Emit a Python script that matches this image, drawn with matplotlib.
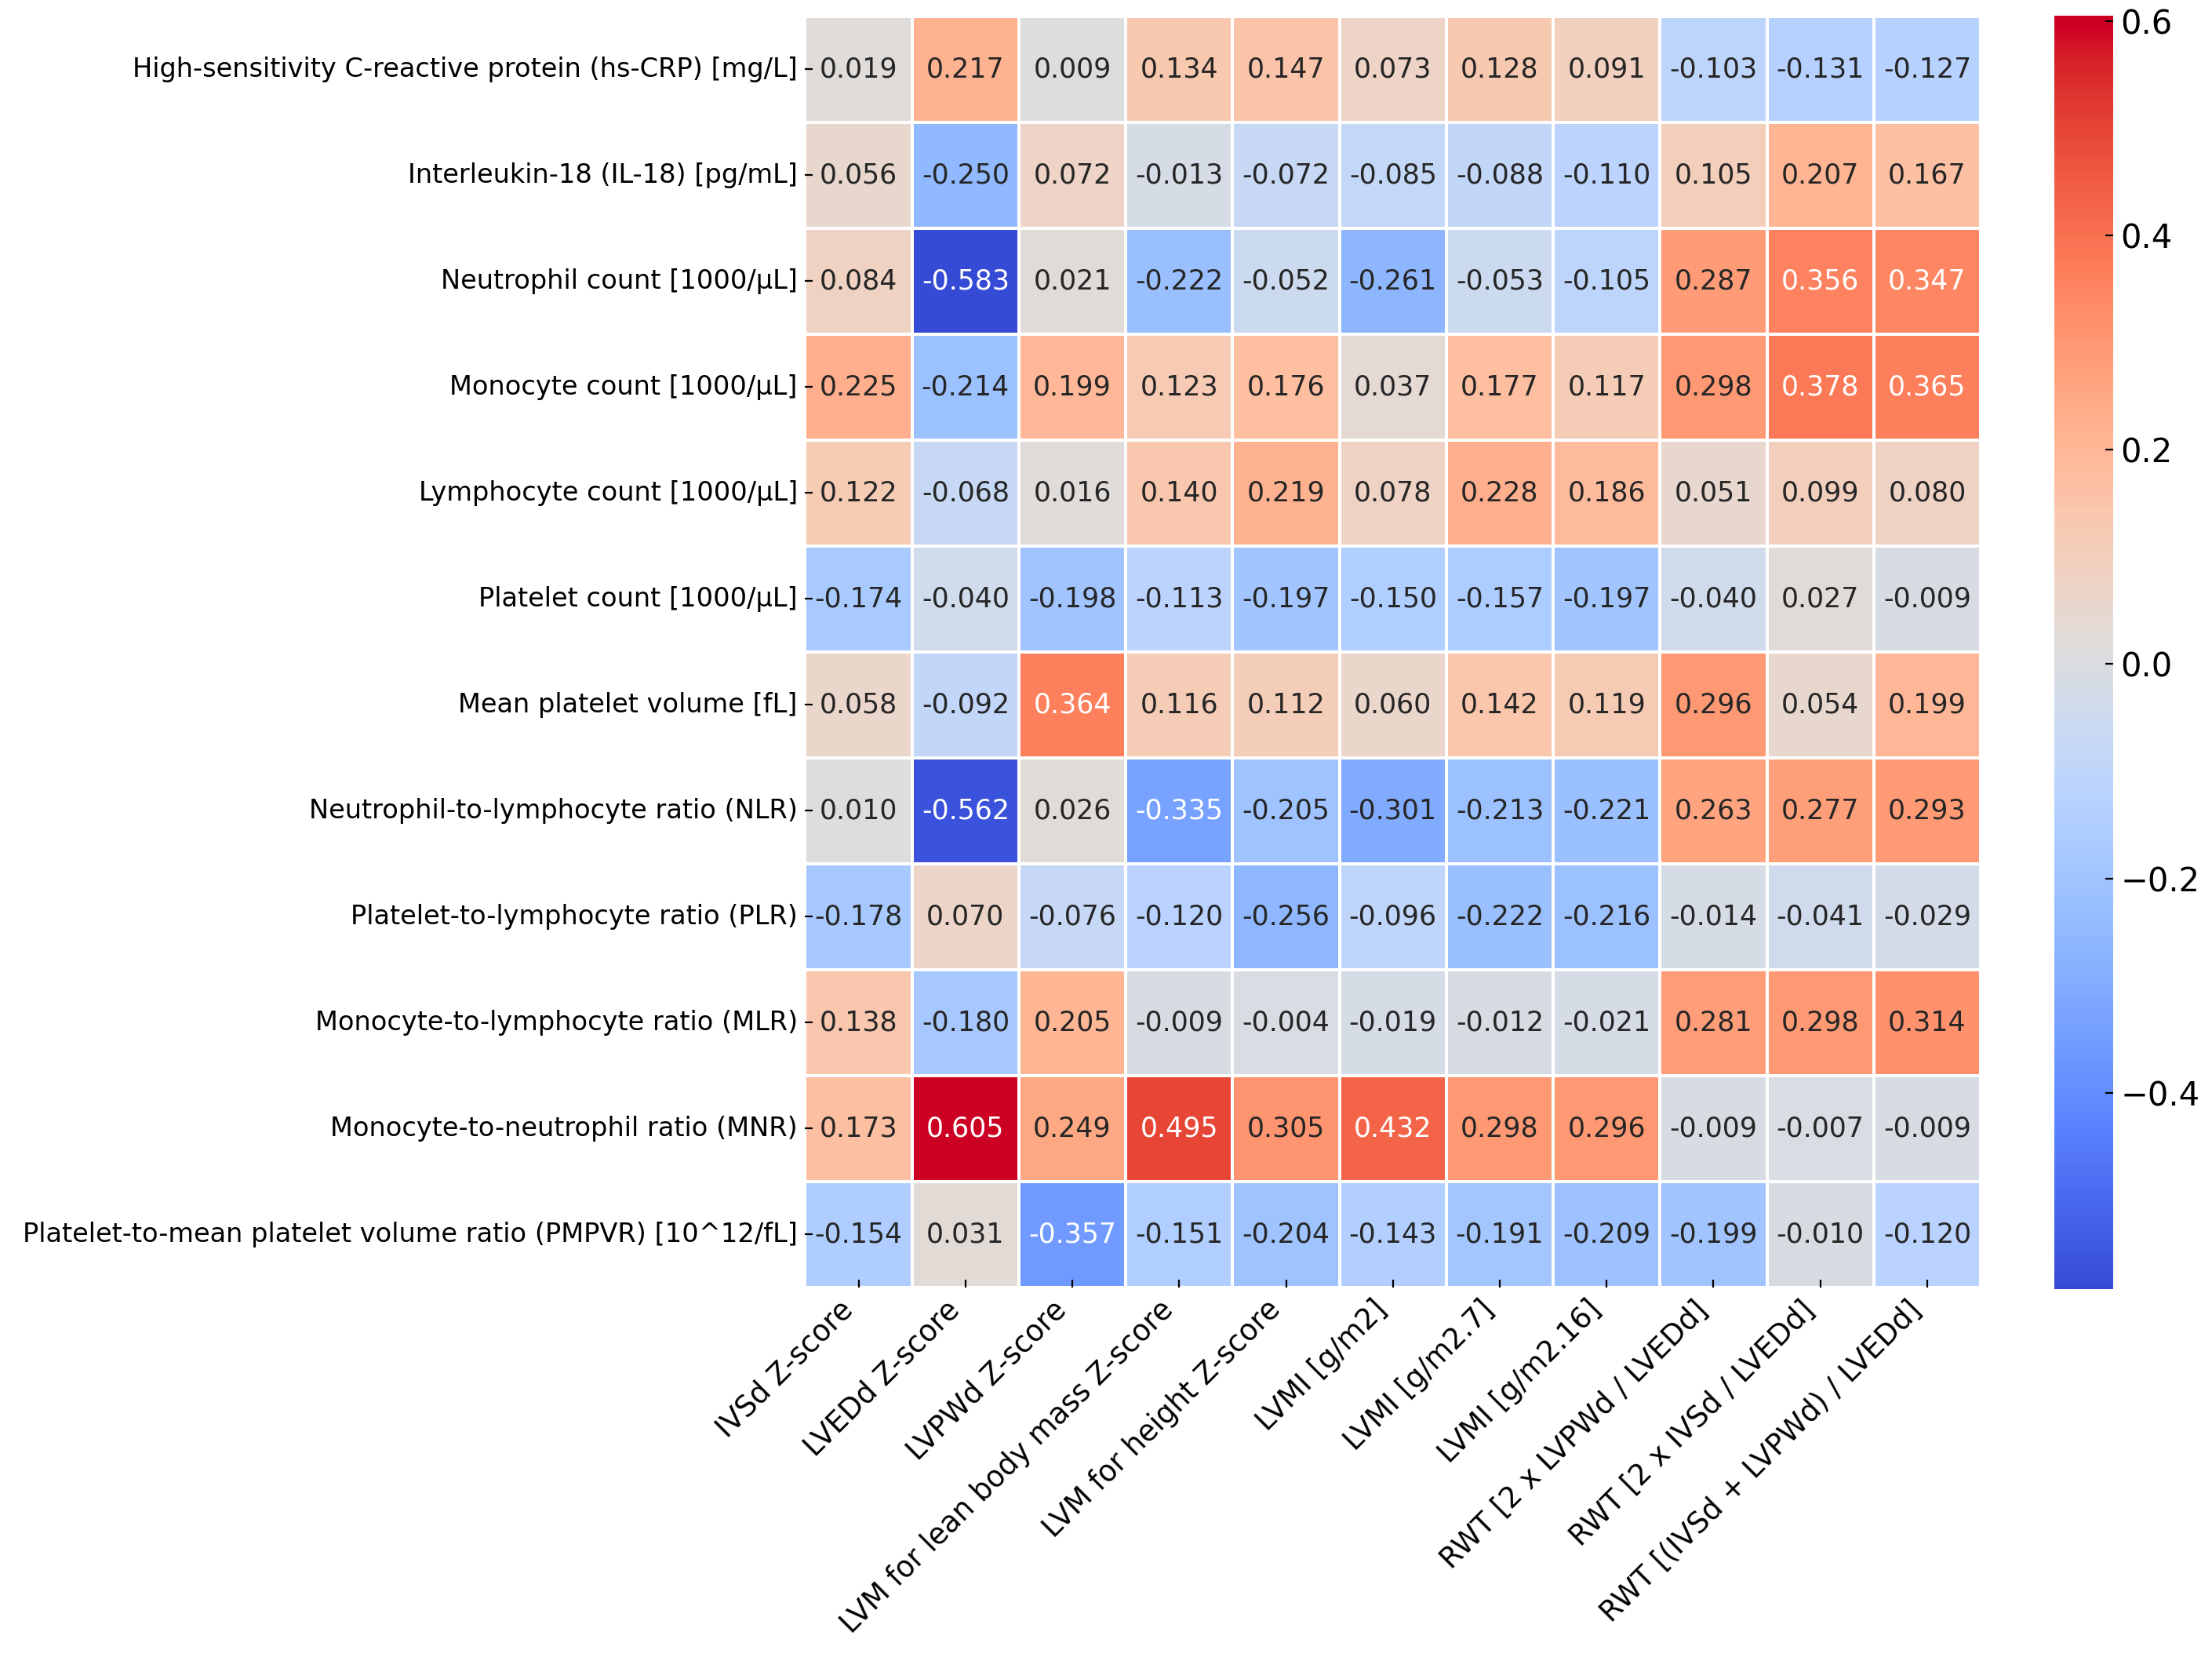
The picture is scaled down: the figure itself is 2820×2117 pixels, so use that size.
import numpy as np
import pandas as pd
import seaborn as sns
import matplotlib.pyplot as plt
from matplotlib.colors import ListedColormap


##############################################################################
# Data
rows = ['High-sensitivity C-reactive protein (hs-CRP) [mg/L]',
        'Interleukin-18 (IL-18) [pg/mL]',
        'Neutrophil count [1000/µL]',
        'Monocyte count [1000/µL]',
        'Lymphocyte count [1000/µL]',
        'Platelet count [1000/µL]',
        'Mean platelet volume [fL]',
        'Neutrophil-to-lymphocyte ratio (NLR)',
        'Platelet-to-lymphocyte ratio (PLR)',
        'Monocyte-to-lymphocyte ratio (MLR)',
        'Monocyte-to-neutrophil ratio (MNR)',
        'Platelet-to-mean platelet volume ratio (PMPVR) [10^12/fL]']

cols = ['IVSd Z-score', 'LVEDd Z-score', 'LVPWd Z-score',
        'LVM for lean body mass Z-score', 'LVM for height Z-score',
        'LVMI [g/m2]', 'LVMI [g/m2.7]', 'LVMI [g/m2.16]',
        'RWT [2 x LVPWd / LVEDd]', 'RWT [2 x IVSd / LVEDd]',
        'RWT [(IVSd + LVPWd) / LVEDd]']

hs_crp = [0.019, 0.217, 0.009, 0.134, 0.147, 0.073, 0.128, 0.091, -0.103, -0.131, -0.127]
il18 = [0.056, -0.250, 0.072, -0.013, -0.072, -0.085, -0.088, -0.110, 0.105, 0.207, 0.167]
neutro = [0.084, -0.583, 0.021, -0.222, -0.052, -0.261, -0.053, -0.105, 0.287, 0.356, 0.347]
mono = [0.225, -0.214, 0.199, 0.123, 0.176, 0.037, 0.177, 0.117, 0.298, 0.378, 0.365]
lympho = [0.122, -0.068, 0.016, 0.140, 0.219, 0.078, 0.228, 0.186, 0.051, 0.099, 0.080]
platelet = [-0.174, -0.040, -0.198, -0.113, -0.197, -0.150, -0.157, -0.197, -0.040, 0.027, -0.009]
mpv = [0.058, -0.092, 0.364, 0.116, 0.112, 0.060, 0.142, 0.119, 0.296, 0.054, 0.199]
nlr = [0.010, -0.562, 0.026, -0.335, -0.205, -0.301, -0.213, -0.221, 0.263, 0.277, 0.293]
plr = [-0.178, 0.070, -0.076, -0.120, -0.256, -0.096, -0.222, -0.216, -0.014, -0.041, -0.029]
mlr = [0.138, -0.180, 0.205, -0.009, -0.004, -0.019, -0.012, -0.021, 0.281, 0.298, 0.314]
mnr = [0.173, 0.605, 0.249, 0.495, 0.305, 0.432, 0.298, 0.296, -0.009, -0.007, -0.009]
pmpvr = [-0.154, 0.031, -0.357, -0.151, -0.204, -0.143, -0.191, -0.209, -0.199, -0.010, -0.120]

corr = pd.DataFrame([hs_crp, il18, neutro, mono, lympho, platelet, mpv,
                     nlr, plr, mlr, mnr, pmpvr], index=rows, columns=cols)


##############################################################################
# coolwarm, a bit more saturated (the reference looks boosted)
base = plt.get_cmap('coolwarm')(np.linspace(0, 1, 256))[:, :3]
luma = base @ np.array([0.299, 0.587, 0.114])
boosted = np.clip(luma[:, None] + 1.2 * (base - luma[:, None]), 0, 1)
cmap = ListedColormap(boosted)


##############################################################################
# Plot
plt.rcParams['xtick.direction'] = 'in'
plt.rcParams['ytick.direction'] = 'in'

fig = plt.figure(figsize=(14.1, 10.585), dpi=200)
ax = fig.add_axes([0.3640, 0.2249, 0.5314, 0.7652])
cax = fig.add_axes([0.9287, 0.2240, 0.0266, 0.7665])

sns.heatmap(corr, ax=ax, cbar_ax=cax, cmap=cmap, annot=True, fmt='.3f',
            linewidths=1.3, linecolor='white', annot_kws={'size': 12.5})

ax.set_xticklabels(cols, rotation=45, ha='right', fontsize=13.2)
ax.set_yticklabels(rows, rotation=0, fontsize=12.1)
cax.tick_params(labelsize=15)

fig.savefig('out.png', dpi=200)
